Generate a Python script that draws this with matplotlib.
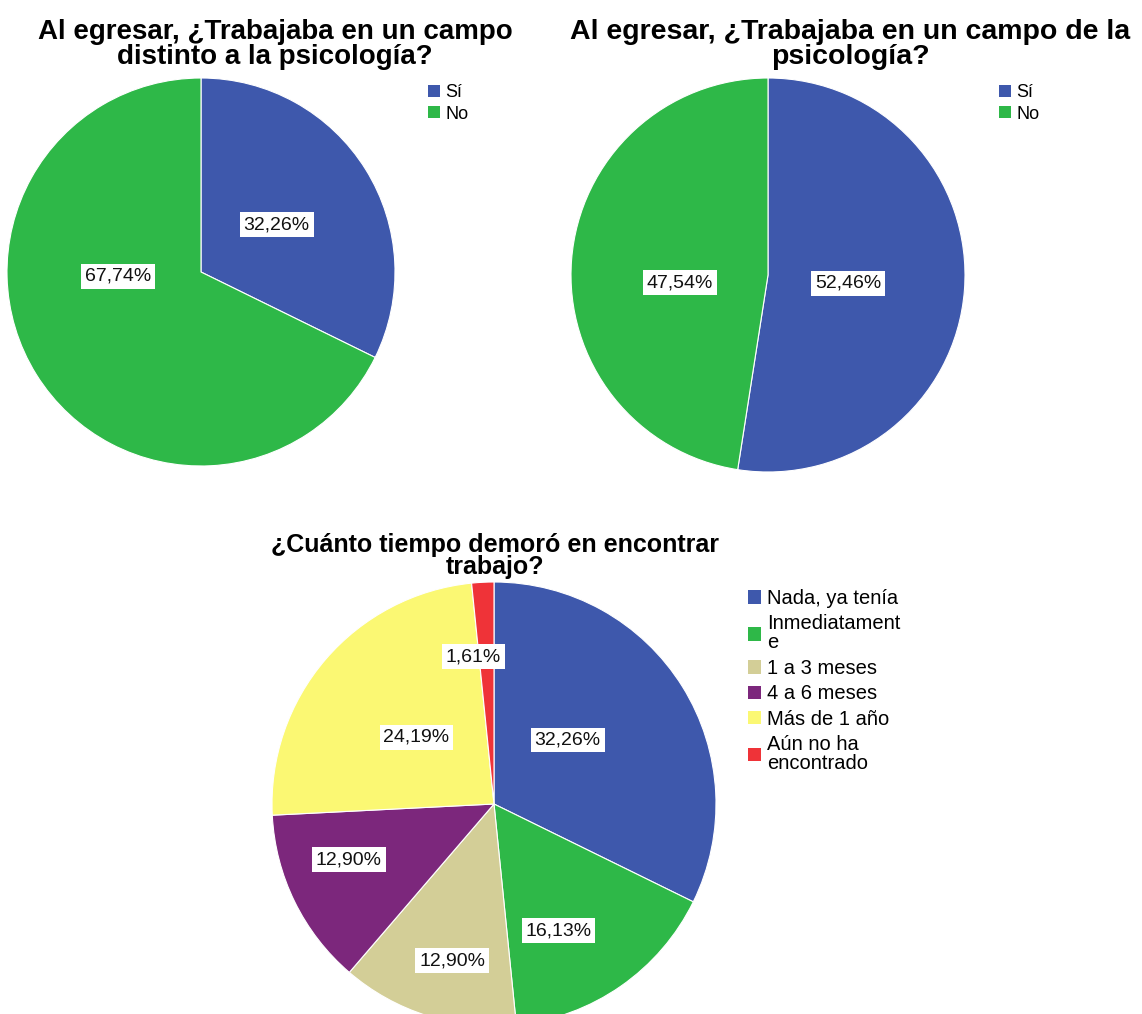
import numpy as np
import matplotlib.pyplot as plt
from matplotlib.patches import Patch

plt.rcParams['font.family'] = ['Liberation Sans', 'DejaVu Sans']

# Datos de los tres gráficos
titulo1 = "Al egresar, ¿Trabajaba en un campo\ndistinto a la psicología?"
categorias1 = ["Sí", "No"]
valores1 = [32.26, 67.74]

titulo2 = "Al egresar, ¿Trabajaba en un campo de la\npsicología?"
categorias2 = ["Sí", "No"]
valores2 = [52.46, 47.54]

titulo3 = "¿Cuánto tiempo demoró en encontrar\ntrabajo?"
categorias3 = ["Nada, ya tenía", "Inmediatament\ne", "1 a 3 meses",
               "4 a 6 meses", "Más de 1 año", "Aún no ha\nencontrado"]
valores3 = [32.26, 16.13, 12.90, 12.90, 24.19, 1.61]

colores = ["#3E58AC", "#2EB848", "#D3CE97", "#7C277C", "#FBF873", "#EF3338"]

W, H = 1142, 1014
fig = plt.figure(figsize=(W / 100, H / 100), dpi=100)


def ejes_pastel(cx, cy, r):
    # cx, cy, r en pixeles (y desde arriba)
    ax = fig.add_axes([(cx - r) / W, (H - cy - r) / H, 2 * r / W, 2 * r / H])
    return ax


def dibujar_pastel(ax, valores, cols, ajustes=None):
    wedges, _ = ax.pie(valores, colors=cols, startangle=90, counterclock=False,
                       radius=1, wedgeprops=dict(edgecolor='white', linewidth=0.8))
    ax.set_xlim(-1, 1)
    ax.set_ylim(-1, 1)
    ax.set_aspect('equal')
    ax.axis('off')
    total = sum(valores)
    for i, (w, v) in enumerate(zip(wedges, valores)):
        ang = np.deg2rad((w.theta1 + w.theta2) / 2)
        d = 0.69 if v / total < 0.2 else 0.46
        # posicion de etiqueta como la pone SPSS (angulo, distancia)
        if ajustes and i in ajustes:
            a, d = ajustes[i]
            ang = np.deg2rad(a)
        txt = f"{v:.2f}%".replace('.', ',')
        ax.text(d * np.cos(ang), d * np.sin(ang), txt, ha='center', va='center',
                fontsize=14, color='#111111',
                bbox=dict(boxstyle='square,pad=0.2', facecolor='white', edgecolor='none'))
    return wedges


def leyenda(ax, categorias, cols, x, y, fs, esp, interl):
    handles = [Patch(facecolor=c, edgecolor='none') for c in cols]
    leg = ax.legend(handles, categorias, loc='upper left', bbox_to_anchor=(x / W, 1 - y / H),
                    bbox_transform=fig.transFigure, frameon=False, fontsize=fs,
                    handlelength=0.65, handleheight=0.65, handletextpad=0.3,
                    labelspacing=esp, borderpad=0, borderaxespad=0)
    for t in leg.get_texts():
        t.set_linespacing(interl)


# Gráfico 1
ax1 = ejes_pastel(201, 272, 194)
dibujar_pastel(ax1, valores1, colores[:2], ajustes={1: (183, 0.43)})
leyenda(ax1, categorias1, colores[:2], 428, 84, 13, 0.25, 0.85)
fig.text(275 / W, 1 - 19 / H, titulo1, ha='center', va='top', fontsize=20,
         fontweight='bold', linespacing=0.95)

# Gráfico 2
ax2 = ejes_pastel(768, 275, 197)
dibujar_pastel(ax2, valores2, colores[:2], ajustes={0: (-6, 0.41), 1: (185, 0.45)})
leyenda(ax2, categorias2, colores[:2], 999, 84, 13, 0.25, 0.85)
fig.text(850 / W, 1 - 19 / H, titulo2, ha='center', va='top', fontsize=20.5,
         fontweight='bold', linespacing=0.95)

# Gráfico 3
ax3 = ejes_pastel(494, 804, 222)
dibujar_pastel(ax3, valores3, colores,
               ajustes={0: (41, 0.44), 1: (-63, 0.64), 2: (-105, 0.73),
                        3: (-159, 0.70), 5: (98, 0.67)})
leyenda(ax3, categorias3, colores, 748, 589, 14.5, 0.32, 1.0)
fig.text(495 / W, 1 - 533 / H, titulo3, ha='center', va='top', fontsize=18,
         fontweight='bold', linespacing=0.92)

fig.savefig("out.png", dpi=100, facecolor='white')
